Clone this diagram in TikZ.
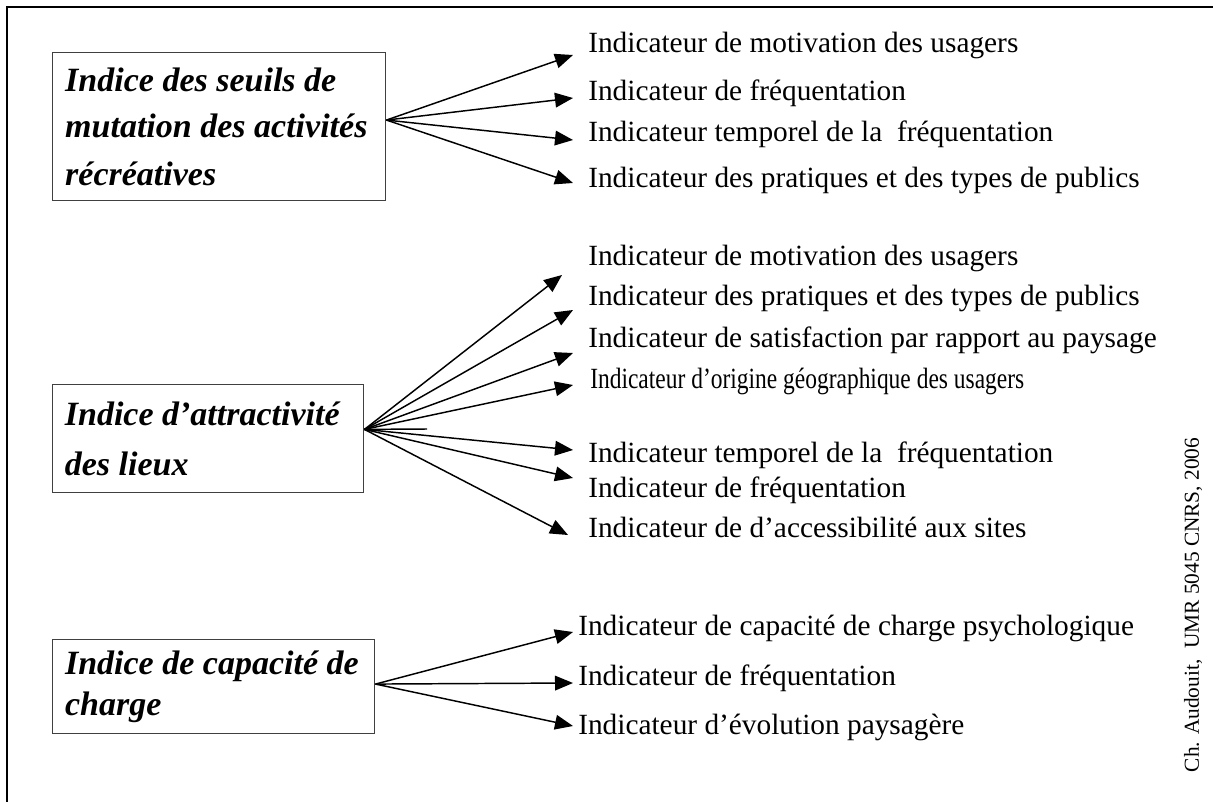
\documentclass[tikz,border=0pt]{standalone}
\usepackage{fontspec}
\setmainfont{Liberation Serif}
\usetikzlibrary{arrows.meta,positioning}

\begin{document}
\begin{tikzpicture}[
    x=0.75pt, y=-0.75pt,
    indice/.style={rectangle, draw=black!75, line width=1.1pt, anchor=north west, align=flush left, inner xsep=9pt, font=\fontsize{25.5}{34}\selectfont\bfseries\itshape},
    indic/.style={anchor=west, inner sep=0pt, font=\fontsize{22}{26}\selectfont},
    fleche/.style={-{Triangle[length=13.5pt,width=11pt]}, line width=1.1pt}
]
    \useasboundingbox (0,0) rectangle (1213,802);
    \draw[line width=1.5pt] (7,802) -- (7,7) -- (1213,7);

    % Indices
    \node[indice, minimum width=249.75pt, minimum height=111pt, text width=231pt] (seuils) at (52,52)
        {Indice des seuils de\\ mutation des activités\\[2pt] récréatives};
    \node[indice, minimum width=233.25pt, minimum height=81pt, text width=215pt] (attract) at (52,384)
        {Indice d’attractivité\\[3.5pt] des lieux};
    \node[indice, minimum width=241.5pt, minimum height=70.5pt, text width=223pt] (capa) at (52,639)
        {Indice de capacité de\\[-3pt] charge};

    % Indicateurs (seuils)
    \node[indic] (s1) at (588,45) {Indicateur de motivation des usagers};
    \node[indic] (s2) at (588,93) {Indicateur de fréquentation};
    \node[indic] (s3) at (588,134) {Indicateur temporel de la~ fréquentation};
    \node[indic] (s4) at (588,180) {Indicateur des pratiques et des types de publics};

    % Indicateurs (attractivite)
    \node[indic] (a1) at (588,258) {Indicateur de motivation des usagers};
    \node[indic] (a2) at (588,298) {Indicateur des pratiques et des types de publics};
    \node[indic] (a3) at (588,340) {Indicateur de satisfaction par rapport au paysage};
    \node[indic] (a4) at (590,381) {\scalebox{0.8}[1]{Indicateur d’origine géographique des usagers}};
    \node[indic] (a5) at (588,455) {Indicateur temporel de la~ fréquentation};
    \node[indic] (a6) at (588,490) {Indicateur de fréquentation};
    \node[indic] (a7) at (588,527) {Indicateur de d’accessibilité aux sites};

    % Indicateurs (capacite)
    \node[indic] (c1) at (578,628) {Indicateur de capacité de charge psychologique};
    \node[indic] (c2) at (578,678) {Indicateur de fréquentation};
    \node[indic] (c3) at (578,727) {Indicateur d’évolution paysagère};

    % Arrow tips
    \coordinate (ts1) at (573,55);
    \coordinate (ts2) at (573,98);
    \coordinate (ts3) at (573,140);
    \coordinate (ts4) at (573,183);
    \coordinate (ta1) at (562,275);
    \coordinate (ta2) at (573,310);
    \coordinate (ta3) at (573,353);
    \coordinate (ta4) at (573,385);
    \coordinate (ta5) at (573,450);
    \coordinate (ta6) at (573,478);
    \coordinate (ta7) at (568,535);
    \coordinate (tc1) at (573,632);
    \coordinate (tc2) at (573,683);
    \coordinate (tc3) at (573,726);
    \coordinate (stub) at (427,429);

    % Edges
    \foreach \t in {ts1,ts2,ts3,ts4}
        \draw[fleche] ([yshift=5pt]seuils.east) -- (\t);
    \foreach \t in {ta1,ta2,ta3,ta4,ta5,ta6,ta7}
        \draw[fleche] ([yshift=7pt]attract.east) -- (\t);
    \draw[line width=1.1pt] ([yshift=7pt]attract.east) -- (stub);
    \foreach \t in {tc1,tc2,tc3}
        \draw[fleche] ([yshift=2pt]capa.east) -- (\t);

    % Credit
    \node[rotate=90, font=\fontsize{16}{18}\selectfont] (credit) at (1193,605) {Ch. Audouit,~ UMR 5045 CNRS, 2006};
\end{tikzpicture}
\end{document}
